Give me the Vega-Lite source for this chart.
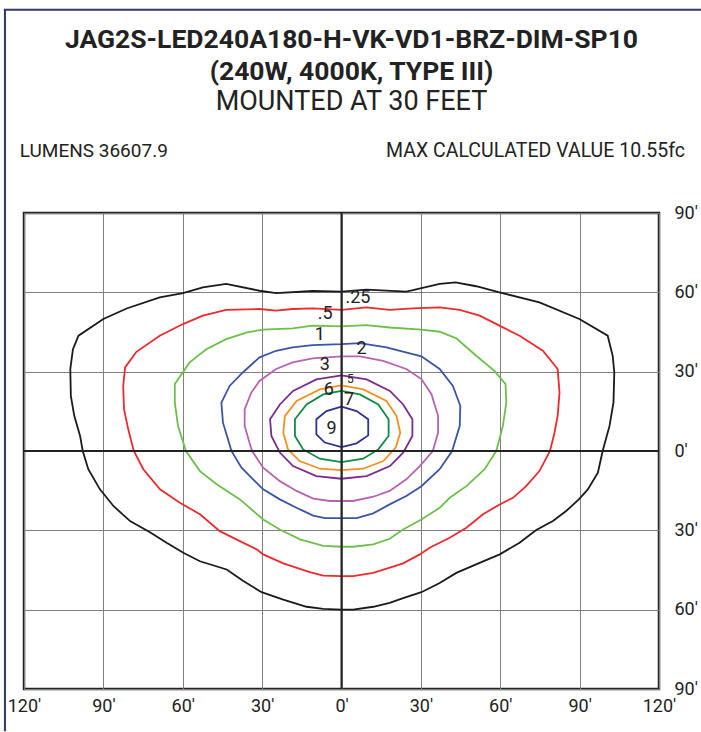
{
"$schema":"https://vega.github.io/schema/vega-lite/v6.json",
"width":635,"height":476,
"autosize":{"type":"none"},
"padding":{"left":24,"top":213,"right":42,"bottom":43},
"background":"white",
"config":{"view":{"stroke":"#222","strokeWidth":2.5},"font":"Roboto"},
"title":{"text":["JAG2S-LED240A180-H-VK-VD1-BRZ-DIM-SP10","(240W, 4000K, TYPE III)"],"subtitle":"MOUNTED AT 30 FEET","font":"Roboto","fontSize":26.5,"fontWeight":"bold","lineHeight":32,"color":"#222","subtitleFont":"Roboto","subtitleFontSize":27,"subtitleFontWeight":"normal","subtitleColor":"#222","subtitleLineHeight":32,"subtitlePadding":3,"anchor":"middle","offset":-106,"dx":10},
"datasets":{
"contours":[
{"l":".25","i":0,"x":0,"y":60.3},{"l":".25","i":1,"x":9.4,"y":61},{"l":".25","i":2,"x":24.5,"y":60.3},{"l":".25","i":3,"x":27,"y":60.8},{"l":".25","i":4,"x":37.1,"y":63.2},{"l":".25","i":5,"x":43.1,"y":63.8},{"l":".25","i":6,"x":50.9,"y":62.3},{"l":".25","i":7,"x":59.7,"y":60},{"l":".25","i":8,"x":74.8,"y":56.2},{"l":".25","i":9,"x":89.9,"y":49.9},{"l":".25","i":10,"x":100.6,"y":43.6},{"l":".25","i":11,"x":102.5,"y":36},{"l":".25","i":12,"x":103.1,"y":29.7},{"l":".25","i":13,"x":102.8,"y":18.4},{"l":".25","i":14,"x":101.3,"y":9.5},{"l":".25","i":15,"x":98.7,"y":0},{"l":".25","i":16,"x":96.9,"y":-8.2},{"l":".25","i":17,"x":93.1,"y":-14.5},{"l":".25","i":18,"x":89.7,"y":-18.3},{"l":".25","i":19,"x":84.9,"y":-22.7},{"l":".25","i":20,"x":79.9,"y":-26.5},{"l":".25","i":21,"x":73.6,"y":-29.9},{"l":".25","i":22,"x":67.3,"y":-34.7},{"l":".25","i":23,"x":59.8,"y":-39.1},{"l":".25","i":24,"x":52.2,"y":-42.3},{"l":".25","i":25,"x":43.4,"y":-46.1},{"l":".25","i":26,"x":37.1,"y":-49.9},{"l":".25","i":27,"x":30.2,"y":-53.4},{"l":".25","i":28,"x":23.3,"y":-55.6},{"l":".25","i":29,"x":18.2,"y":-57.4},{"l":".25","i":30,"x":12,"y":-58.9},{"l":".25","i":31,"x":4.4,"y":-60},{"l":".25","i":32,"x":0,"y":-60},{"l":".25","i":33,"x":-6.9,"y":-59.7},{"l":".25","i":34,"x":-13.2,"y":-58.9},{"l":".25","i":35,"x":-22,"y":-56.2},{"l":".25","i":36,"x":-30.2,"y":-53.4},{"l":".25","i":37,"x":-37.1,"y":-49.2},{"l":".25","i":38,"x":-43.4,"y":-44.8},{"l":".25","i":39,"x":-53.5,"y":-41.7},{"l":".25","i":40,"x":-59.8,"y":-38.5},{"l":".25","i":41,"x":-66.1,"y":-34.7},{"l":".25","i":42,"x":-72.4,"y":-30.7},{"l":".25","i":43,"x":-79.9,"y":-26.5},{"l":".25","i":44,"x":-86.2,"y":-20.8},{"l":".25","i":45,"x":-91.3,"y":-14.5},{"l":".25","i":46,"x":-95.7,"y":-6.9},{"l":".25","i":47,"x":-97.8,"y":0},{"l":".25","i":48,"x":-98.8,"y":5.7},{"l":".25","i":49,"x":-101,"y":13.3},{"l":".25","i":50,"x":-102.3,"y":20.8},{"l":".25","i":51,"x":-102.5,"y":31},{"l":".25","i":52,"x":-101.5,"y":38.5},{"l":".25","i":53,"x":-99.4,"y":43.6},{"l":".25","i":54,"x":-90,"y":49.9},{"l":".25","i":55,"x":-81.2,"y":53.9},{"l":".25","i":56,"x":-68.7,"y":58.1},{"l":".25","i":57,"x":-59.9,"y":59.7},{"l":".25","i":58,"x":-52.4,"y":61.9},{"l":".25","i":59,"x":-43.6,"y":63.2},{"l":".25","i":60,"x":-31,"y":60.6},{"l":".25","i":61,"x":-24.7,"y":59.7},{"l":".25","i":62,"x":-10.9,"y":60.5},{"l":".25","i":63,"x":0,"y":60.3},
{"l":".5","i":0,"x":0,"y":53.4},{"l":".5","i":1,"x":9.4,"y":54.3},{"l":".5","i":2,"x":18.2,"y":53.4},{"l":".5","i":3,"x":27,"y":53.9},{"l":".5","i":4,"x":37.1,"y":54.3},{"l":".5","i":5,"x":44.7,"y":53.4},{"l":".5","i":6,"x":52.2,"y":51.2},{"l":".5","i":7,"x":59.7,"y":47.4},{"l":".5","i":8,"x":67.3,"y":43.6},{"l":".5","i":9,"x":76.1,"y":37.9},{"l":".5","i":10,"x":81.7,"y":31},{"l":".5","i":11,"x":82.4,"y":22.1},{"l":".5","i":12,"x":81.7,"y":13.3},{"l":".5","i":13,"x":80.5,"y":6.9},{"l":".5","i":14,"x":78.8,"y":0},{"l":".5","i":15,"x":74.8,"y":-7.6},{"l":".5","i":16,"x":69.8,"y":-13.3},{"l":".5","i":17,"x":64.8,"y":-17.7},{"l":".5","i":18,"x":59.8,"y":-20.2},{"l":".5","i":19,"x":53.5,"y":-23.9},{"l":".5","i":20,"x":47.2,"y":-29},{"l":".5","i":21,"x":40.9,"y":-32.8},{"l":".5","i":22,"x":33.3,"y":-36.6},{"l":".5","i":23,"x":29.6,"y":-39.1},{"l":".5","i":24,"x":23.3,"y":-42.5},{"l":".5","i":25,"x":12,"y":-46.1},{"l":".5","i":26,"x":4.4,"y":-47.3},{"l":".5","i":27,"x":0,"y":-47.3},{"l":".5","i":28,"x":-6.9,"y":-47.1},{"l":".5","i":29,"x":-12,"y":-45.8},{"l":".5","i":30,"x":-22,"y":-42.5},{"l":".5","i":31,"x":-29.6,"y":-39.1},{"l":".5","i":32,"x":-32.1,"y":-37.2},{"l":".5","i":33,"x":-38.4,"y":-34.1},{"l":".5","i":34,"x":-46,"y":-30.3},{"l":".5","i":35,"x":-53.5,"y":-23.9},{"l":".5","i":36,"x":-61.1,"y":-19.6},{"l":".5","i":37,"x":-68.6,"y":-14.5},{"l":".5","i":38,"x":-74.9,"y":-6.9},{"l":".5","i":39,"x":-78.5,"y":0},{"l":".5","i":40,"x":-80.6,"y":8.2},{"l":".5","i":41,"x":-82.2,"y":15.8},{"l":".5","i":42,"x":-82.5,"y":24.6},{"l":".5","i":43,"x":-81.8,"y":31.6},{"l":".5","i":44,"x":-77.5,"y":37.5},{"l":".5","i":45,"x":-68.7,"y":43.6},{"l":".5","i":46,"x":-59.9,"y":48},{"l":".5","i":47,"x":-52.4,"y":51.2},{"l":".5","i":48,"x":-43.6,"y":53.4},{"l":".5","i":49,"x":-31,"y":53.7},{"l":".5","i":50,"x":-24.7,"y":53.1},{"l":".5","i":51,"x":-18.5,"y":53.7},{"l":".5","i":52,"x":-10.9,"y":53.9},{"l":".5","i":53,"x":0,"y":53.4},
{"l":"1","i":0,"x":0,"y":47.1},{"l":"1","i":1,"x":9.4,"y":47.6},{"l":"1","i":2,"x":18.2,"y":46.7},{"l":"1","i":3,"x":30.2,"y":45.9},{"l":"1","i":4,"x":37.1,"y":45.1},{"l":"1","i":5,"x":43.4,"y":42.6},{"l":"1","i":6,"x":50.9,"y":36},{"l":"1","i":7,"x":57.8,"y":30.3},{"l":"1","i":8,"x":62,"y":25.3},{"l":"1","i":9,"x":62.3,"y":18.3},{"l":"1","i":10,"x":61,"y":9.5},{"l":"1","i":11,"x":58.5,"y":0},{"l":"1","i":12,"x":54.1,"y":-6.9},{"l":"1","i":13,"x":47.2,"y":-13.3},{"l":"1","i":14,"x":40.9,"y":-17.7},{"l":"1","i":15,"x":37.1,"y":-21.5},{"l":"1","i":16,"x":30.2,"y":-25.9},{"l":"1","i":17,"x":23.3,"y":-29.7},{"l":"1","i":18,"x":18.2,"y":-33.2},{"l":"1","i":19,"x":12,"y":-35.3},{"l":"1","i":20,"x":4.4,"y":-36.2},{"l":"1","i":21,"x":0,"y":-36.2},{"l":"1","i":22,"x":-6.9,"y":-35.9},{"l":"1","i":23,"x":-15.7,"y":-33.4},{"l":"1","i":24,"x":-23.3,"y":-29.7},{"l":"1","i":25,"x":-29.6,"y":-25.9},{"l":"1","i":26,"x":-38.4,"y":-18.3},{"l":"1","i":27,"x":-47.2,"y":-12.6},{"l":"1","i":28,"x":-53.5,"y":-7.6},{"l":"1","i":29,"x":-58.8,"y":0},{"l":"1","i":30,"x":-61.8,"y":9.5},{"l":"1","i":31,"x":-63,"y":18.3},{"l":"1","i":32,"x":-63,"y":25.3},{"l":"1","i":33,"x":-57.4,"y":33.5},{"l":"1","i":34,"x":-51.1,"y":38.5},{"l":"1","i":35,"x":-43.6,"y":42.3},{"l":"1","i":36,"x":-36,"y":44.8},{"l":"1","i":37,"x":-29.7,"y":45.9},{"l":"1","i":38,"x":-18.5,"y":46.4},{"l":"1","i":39,"x":-10.9,"y":47.4},{"l":"1","i":40,"x":0,"y":47.1},
{"l":"2","i":0,"x":0,"y":40.4},{"l":"2","i":1,"x":6.9,"y":40.8},{"l":"2","i":2,"x":17,"y":39.2},{"l":"2","i":3,"x":30.2,"y":35.8},{"l":"2","i":4,"x":37.1,"y":31},{"l":"2","i":5,"x":42.1,"y":24.6},{"l":"2","i":6,"x":44.9,"y":17.1},{"l":"2","i":7,"x":44.7,"y":9.5},{"l":"2","i":8,"x":41.8,"y":0},{"l":"2","i":9,"x":37.1,"y":-6.9},{"l":"2","i":10,"x":30.2,"y":-13.3},{"l":"2","i":11,"x":24.5,"y":-17},{"l":"2","i":12,"x":18.2,"y":-20.2},{"l":"2","i":13,"x":12,"y":-23.6},{"l":"2","i":14,"x":5.7,"y":-25.4},{"l":"2","i":15,"x":0,"y":-25.4},{"l":"2","i":16,"x":-6.3,"y":-25.4},{"l":"2","i":17,"x":-10.7,"y":-24.4},{"l":"2","i":18,"x":-15.7,"y":-22.1},{"l":"2","i":19,"x":-23.3,"y":-18.3},{"l":"2","i":20,"x":-29.6,"y":-14.5},{"l":"2","i":21,"x":-33.4,"y":-10.7},{"l":"2","i":22,"x":-37.8,"y":-6.3},{"l":"2","i":23,"x":-41.6,"y":0},{"l":"2","i":24,"x":-42.9,"y":4.4},{"l":"2","i":25,"x":-44.8,"y":10.7},{"l":"2","i":26,"x":-45.4,"y":18.3},{"l":"2","i":27,"x":-42.3,"y":24.6},{"l":"2","i":28,"x":-37.3,"y":29.7},{"l":"2","i":29,"x":-31,"y":35.4},{"l":"2","i":30,"x":-24.7,"y":37.9},{"l":"2","i":31,"x":-18.5,"y":39.2},{"l":"2","i":32,"x":-10.9,"y":40},{"l":"2","i":33,"x":0,"y":40.4},
{"l":"3","i":0,"x":0,"y":35.8},{"l":"3","i":1,"x":6.9,"y":35.8},{"l":"3","i":2,"x":15.7,"y":34.1},{"l":"3","i":3,"x":24.5,"y":31},{"l":"3","i":4,"x":30.2,"y":27.2},{"l":"3","i":5,"x":34,"y":21.5},{"l":"3","i":6,"x":36.5,"y":13.3},{"l":"3","i":7,"x":36.5,"y":6.9},{"l":"3","i":8,"x":34.5,"y":0},{"l":"3","i":9,"x":29.6,"y":-5.7},{"l":"3","i":10,"x":24.5,"y":-10.7},{"l":"3","i":11,"x":18.2,"y":-15.1},{"l":"3","i":12,"x":12,"y":-17.3},{"l":"3","i":13,"x":4.4,"y":-18.9},{"l":"3","i":14,"x":0,"y":-18.9},{"l":"3","i":15,"x":-4.4,"y":-18.9},{"l":"3","i":16,"x":-10.7,"y":-18},{"l":"3","i":17,"x":-17,"y":-15.1},{"l":"3","i":18,"x":-23.3,"y":-11.4},{"l":"3","i":19,"x":-29.6,"y":-6.3},{"l":"3","i":20,"x":-33.8,"y":0},{"l":"3","i":21,"x":-34.8,"y":3.2},{"l":"3","i":22,"x":-36.6,"y":9.5},{"l":"3","i":23,"x":-36.6,"y":15.8},{"l":"3","i":24,"x":-34.1,"y":22.1},{"l":"3","i":25,"x":-31,"y":26.5},{"l":"3","i":26,"x":-24.7,"y":31},{"l":"3","i":27,"x":-18.5,"y":33.5},{"l":"3","i":28,"x":-10.9,"y":35},{"l":"3","i":29,"x":0,"y":35.8},
{"l":"5","i":0,"x":0,"y":28.6},{"l":"5","i":1,"x":9.5,"y":27.1},{"l":"5","i":2,"x":18.3,"y":22.7},{"l":"5","i":3,"x":23.3,"y":17.6},{"l":"5","i":4,"x":26.8,"y":12},{"l":"5","i":5,"x":26.8,"y":5.7},{"l":"5","i":6,"x":23.3,"y":-0.6},{"l":"5","i":7,"x":18.3,"y":-5.7},{"l":"5","i":8,"x":9.5,"y":-9.5},{"l":"5","i":9,"x":0,"y":-10.5},{"l":"5","i":10,"x":-9.5,"y":-9.5},{"l":"5","i":11,"x":-18.3,"y":-5.7},{"l":"5","i":12,"x":-23.3,"y":-0.6},{"l":"5","i":13,"x":-26.5,"y":5.7},{"l":"5","i":14,"x":-27,"y":12},{"l":"5","i":15,"x":-23.3,"y":17.6},{"l":"5","i":16,"x":-18.3,"y":22.7},{"l":"5","i":17,"x":-9.5,"y":27.1},{"l":"5","i":18,"x":0,"y":28.6},
{"l":"6","i":0,"x":0,"y":24.8},{"l":"6","i":1,"x":8.2,"y":23.3},{"l":"6","i":2,"x":17,"y":18.9},{"l":"6","i":3,"x":20.8,"y":13.2},{"l":"6","i":4,"x":22.2,"y":6.9},{"l":"6","i":5,"x":20.5,"y":1.3},{"l":"6","i":6,"x":15.8,"y":-3.8},{"l":"6","i":7,"x":8.2,"y":-6.7},{"l":"6","i":8,"x":0,"y":-7.2},{"l":"6","i":9,"x":-8.2,"y":-6.7},{"l":"6","i":10,"x":-15.8,"y":-3.8},{"l":"6","i":11,"x":-20.2,"y":0.6},{"l":"6","i":12,"x":-22,"y":6.9},{"l":"6","i":13,"x":-21.4,"y":13.2},{"l":"6","i":14,"x":-17,"y":18.9},{"l":"6","i":15,"x":-8.2,"y":23.3},{"l":"6","i":16,"x":0,"y":24.8},
{"l":"7","i":0,"x":0,"y":22.7},{"l":"7","i":1,"x":6.9,"y":21.4},{"l":"7","i":2,"x":13.9,"y":17.6},{"l":"7","i":3,"x":17.8,"y":12},{"l":"7","i":4,"x":17.8,"y":5.7},{"l":"7","i":5,"x":13.9,"y":0.6},{"l":"7","i":6,"x":8.2,"y":-2.9},{"l":"7","i":7,"x":0,"y":-4.2},{"l":"7","i":8,"x":-8.2,"y":-2.9},{"l":"7","i":9,"x":-14.5,"y":0.6},{"l":"7","i":10,"x":-17.6,"y":5.7},{"l":"7","i":11,"x":-17.6,"y":12},{"l":"7","i":12,"x":-13.2,"y":17.6},{"l":"7","i":13,"x":-6.9,"y":21.4},{"l":"7","i":14,"x":0,"y":22.7},
{"l":"9","i":0,"x":0,"y":16.8},{"l":"9","i":1,"x":5.7,"y":15.1},{"l":"9","i":2,"x":10.1,"y":12},{"l":"9","i":3,"x":10.1,"y":5.9},{"l":"9","i":4,"x":5.7,"y":2.9},{"l":"9","i":5,"x":0,"y":1.5},{"l":"9","i":6,"x":-6.3,"y":3.2},{"l":"9","i":7,"x":-9.5,"y":6.3},{"l":"9","i":8,"x":-9.5,"y":12},{"l":"9","i":9,"x":-5.7,"y":15.1},{"l":"9","i":10,"x":0,"y":16.8}
],
"labels":[
{"t":".25","x":6.2,"y":58},{"t":".5","x":-6.2,"y":51.9},{"t":"1","x":-8.2,"y":43.7},{"t":"2","x":7.6,"y":38.4},{"t":"3","x":-6.3,"y":32.4},{"t":"6","x":-4.8,"y":22.9},{"t":"7","x":2.9,"y":19.3},{"t":"9","x":-3.8,"y":8.2}
],
"small":[{"t":"5","x":3.4,"y":27.1}],
"left":[{"t":"LUMENS 36607.9","x":-121.6,"y":113.6}],
"right":[{"t":"MAX CALCULATED VALUE 10.55fc","x":129.8,"y":113.6}],
"one":[{"k":1}]
},
"layer":[
{"data":{"name":"contours"},"mark":{"type":"line","strokeWidth":1.8,"clip":true},
 "encoding":{
  "x":{"field":"x","type":"quantitative","scale":{"domain":[-120,120],"nice":false,"zero":false},
   "axis":{"orient":"bottom","values":[-120,-90,-60,-30,0,30,60,90,120],"labelExpr":"abs(datum.value) + '′'","title":null,"ticks":false,"domain":false,"labelPadding":8,"labelFontSize":18,"labelFont":"Roboto","labelColor":"#222","labelFlush":false,"labelOverlap":false,"labelBound":false,"grid":true,"gridColor":"#808080","gridWidth":1,"gridOpacity":1}},
  "y":{"field":"y","type":"quantitative","scale":{"domain":[-90,90],"nice":false,"zero":false},
   "axis":{"orient":"right","values":[-90,-60,-30,0,30,60,90],"labelExpr":"abs(datum.value) + '′'","title":null,"ticks":false,"domain":false,"labelPadding":15,"labelAlign":"left","labelBaseline":"middle","labelFontSize":18,"labelFont":"Roboto","labelColor":"#222","labelFlush":false,"labelOverlap":false,"labelBound":false,"grid":true,"gridColor":"#808080","gridWidth":1,"gridOpacity":1}},
  "color":{"field":"l","type":"nominal","scale":{"domain":[".25",".5","1","2","3","5","6","7","9"],"range":["#1a1a1a","#ec2a2e","#6cbf4a","#3b55a5","#b862b3","#7a2b8c","#f3901f","#0f8b46","#2e3192"]},"legend":null},
  "order":{"field":"i","type":"quantitative"}
 }},
{"data":{"name":"one"},"mark":{"type":"rule","color":"#222","strokeWidth":2},
 "encoding":{"x":{"datum":0,"type":"quantitative"}}},
{"data":{"name":"one"},"mark":{"type":"rule","color":"#222","strokeWidth":2},
 "encoding":{"y":{"datum":0,"type":"quantitative"}}},
{"data":{"name":"labels"},"mark":{"type":"text","font":"Roboto","fontSize":18,"color":"#222","align":"center","baseline":"middle"},
 "encoding":{"x":{"field":"x","type":"quantitative"},"y":{"field":"y","type":"quantitative"},"text":{"field":"t"}}},
{"data":{"name":"small"},"mark":{"type":"text","font":"Roboto","fontSize":12,"color":"#222","align":"center","baseline":"middle"},
 "encoding":{"x":{"field":"x","type":"quantitative"},"y":{"field":"y","type":"quantitative"},"text":{"field":"t"}}},
{"data":{"name":"left"},"mark":{"type":"text","font":"Roboto","fontSize":19,"color":"#222","align":"left","baseline":"middle"},
 "encoding":{"x":{"field":"x","type":"quantitative"},"y":{"field":"y","type":"quantitative"},"text":{"field":"t"}}},
{"data":{"name":"right"},"mark":{"type":"text","font":"Roboto","fontSize":19.5,"color":"#222","align":"right","baseline":"middle"},
 "encoding":{"x":{"field":"x","type":"quantitative"},"y":{"field":"y","type":"quantitative"},"text":{"field":"t"}}},
{"data":{"name":"one"},"mark":{"type":"rule","color":"#2b3a67","strokeWidth":2},
 "encoding":{"x":{"datum":-127.2,"type":"quantitative"},"y":{"datum":166.9,"type":"quantitative"},"y2":{"datum":-106}}},
{"data":{"name":"one"},"mark":{"type":"rule","color":"#2b3a67","strokeWidth":2},
 "encoding":{"x":{"datum":-127.6,"type":"quantitative"},"x2":{"datum":136},"y":{"datum":166.9,"type":"quantitative"}}}
]
}
